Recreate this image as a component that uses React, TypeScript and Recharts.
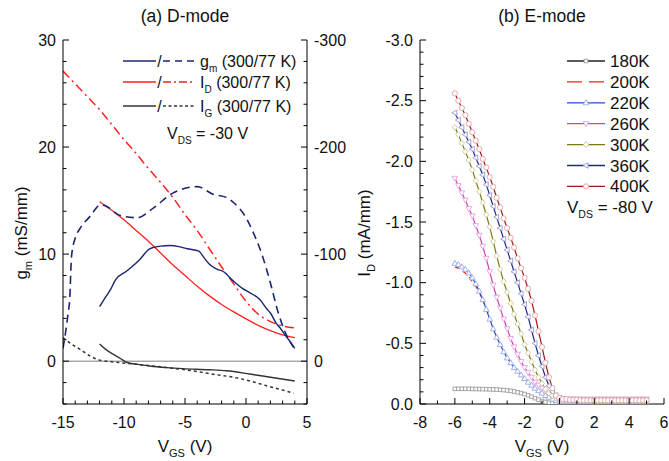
import React from 'react';
import { ComposedChart, Line, XAxis, YAxis, ReferenceLine } from 'recharts';

const FONT = '"Liberation Sans", Arial, sans-serif';

// ---------- Panel (a) D-mode ----------
const gm300X = [-12, -11.5, -11.1, -10.7, -9.8, -8.7, -7.9, -7.0, -6.2, -5.5, -4.8, -3.9, -3.4, -2.95, -2.4, -1.9, -1.05, -0.3, 0.3, 1.1, 1.7, 2.0, 2.5, 2.8, 3.3, 3.5, 4.0];
const gm300Y = [5.1, 6.0, 6.7, 7.6, 8.4, 9.5, 10.5, 10.75, 10.8, 10.7, 10.5, 10.3, 9.6, 9.0, 8.6, 8.4, 7.5, 6.8, 6.4, 5.8, 4.9, 4.5, 3.5, 3.1, 2.3, 2.0, 1.2];

const gm77X = [-15, -14.8, -14.6, -14.45, -14.3, -14.0, -13.6, -12.8, -11.9, -11.5, -10.3, -8.9, -7.6, -6.0, -4.0, -2.7, -1.6, -1.0, 0.1, 0.6, 1.3, 2.0, 2.65, 3.33, 3.9];
const gm77Y = [1.2, 2.6, 4.3, 5.8, 9.8, 11.5, 12.4, 13.5, 14.6, 14.5, 13.6, 13.4, 14.3, 15.7, 16.3, 15.6, 15.3, 14.8, 13.2, 12.0, 10.0, 7.3, 4.5, 2.4, 1.3];

// I_D in mA/mm (right axis)
const id300X = [-12, -11, -10, -9, -8, -7, -6, -5, -4, -3, -2, -1, 0, 1, 2, 3, 4];
const id300Y = [-149, -141, -132, -122, -112, -101, -90, -80, -70, -61, -53, -46, -39.5, -33.5, -28.5, -24.5, -22];

const id77X = [-15, -14, -13, -12, -11, -10, -9, -8, -7, -6, -5, -4, -3, -2, -1, 0, 1, 2, 3, 4];
const id77Y = [-271, -259, -247, -235, -221, -207, -194, -180, -167, -153, -137, -122, -105, -88, -72, -56, -44, -37, -33, -31];

const ig300X = [-12, -11.5, -10.9, -10.3, -9.8, -8.9, -7.9, -6.5, -5.2, -3.0, -1.6, 0.3, 2.0, 4.0];
const ig300Y = [1.6, 1.1, 0.65, 0.25, -0.1, -0.3, -0.45, -0.6, -0.7, -0.8, -0.9, -1.2, -1.5, -1.85];

const ig77X = [-15, -14.3, -13.6, -12.8, -12, -11, -9.8, -8, -6.5, -5, -3.8, -2.5, -1.05, 0.5, 1.7, 3.0, 3.9];
const ig77Y = [2.2, 1.6, 1.1, 0.5, 0.1, -0.05, -0.2, -0.4, -0.6, -0.8, -1.0, -1.25, -1.5, -1.9, -2.3, -2.7, -3.0];

const xTicksA = [-15, -14, -13, -12, -11, -10, -9, -8, -7, -6, -5, -4, -3, -2, -1, 0, 1, 2, 3, 4, 5];
const xMajorsA = [-15, -10, -5, 0, 5];
const yTicksA = [-4, -2, 0, 2, 4, 6, 8, 10, 12, 14, 16, 18, 20, 22, 24, 26, 28, 30];
const yMajorsA = [0, 10, 20, 30];
const yTicksAR = [-300, -280, -260, -240, -220, -200, -180, -160, -140, -120, -100, -80, -60, -40, -20, 0, 20, 40];
const yMajorsAR = [-300, -200, -100, 0];

// ---------- Panel (b) E-mode ----------
const vgsE = [-6.0, -5.8, -5.6, -5.4, -5.2, -5.0, -4.8, -4.6, -4.4, -4.2, -4.0, -3.8, -3.6, -3.4, -3.2, -3.0, -2.8, -2.6, -2.4, -2.2, -2.0, -1.8, -1.6, -1.4, -1.2, -1.0, -0.8, -0.6, -0.4, -0.2, 0.0,
  0.2, 0.4, 0.6, 0.8, 1.0, 1.2, 1.4, 1.6, 1.8, 2.0, 2.2, 2.4, 2.6, 2.8, 3.0, 3.2, 3.4, 3.6, 3.8, 4.0, 4.2, 4.4, 4.6, 4.8, 5.0];

const id180 = [-0.125, -0.125, -0.125, -0.125, -0.125, -0.124, -0.124, -0.123, -0.123, -0.122, -0.121, -0.120, -0.119, -0.117, -0.115, -0.112, -0.108, -0.103, -0.097, -0.090, -0.082, -0.072, -0.060, -0.048, -0.036, -0.025, -0.016, -0.010, -0.006, -0.004, -0.003,
  -0.003, -0.003, -0.003, -0.002, -0.002, -0.002, -0.002, -0.002, -0.002, -0.002, -0.002, -0.002, -0.002, -0.002, -0.002, -0.002, -0.002, -0.002, -0.002, -0.002, -0.002, -0.002, -0.002, -0.002, -0.002];
const id200 = [-1.13, -1.12, -1.10, -1.08, -1.05, -1.01, -0.97, -0.92, -0.86, -0.79, -0.71, -0.63, -0.56, -0.50, -0.44, -0.39, -0.35, -0.31, -0.27, -0.24, -0.21, -0.18, -0.15, -0.13, -0.11, -0.09, -0.07, -0.055, -0.04, -0.03, -0.025,
  -0.02, -0.02, -0.02, -0.02, -0.02, -0.02, -0.02, -0.02, -0.02, -0.02, -0.02, -0.02, -0.02, -0.02, -0.02, -0.02, -0.02, -0.02, -0.02, -0.02, -0.02, -0.02, -0.02, -0.02, -0.02];
const id220 = [-1.16, -1.15, -1.13, -1.11, -1.08, -1.04, -0.99, -0.93, -0.86, -0.78, -0.70, -0.62, -0.55, -0.49, -0.43, -0.38, -0.34, -0.30, -0.27, -0.24, -0.21, -0.18, -0.155, -0.13, -0.11, -0.09, -0.07, -0.055, -0.04, -0.03, -0.025,
  -0.02, -0.02, -0.02, -0.02, -0.02, -0.02, -0.02, -0.02, -0.02, -0.02, -0.02, -0.02, -0.02, -0.02, -0.02, -0.02, -0.02, -0.02, -0.02, -0.02, -0.02, -0.02, -0.02, -0.02, -0.02];
const id260 = [-1.86, -1.80, -1.74, -1.68, -1.61, -1.55, -1.47, -1.39, -1.30, -1.20, -1.09, -0.98, -0.88, -0.79, -0.70, -0.62, -0.54, -0.47, -0.41, -0.35, -0.30, -0.26, -0.22, -0.18, -0.155, -0.13, -0.11, -0.09, -0.07, -0.055, -0.045,
  -0.04, -0.04, -0.04, -0.04, -0.04, -0.04, -0.04, -0.04, -0.04, -0.04, -0.04, -0.04, -0.04, -0.04, -0.04, -0.04, -0.04, -0.04, -0.04, -0.04, -0.04, -0.04, -0.04, -0.04, -0.04];
const id300 = [-2.28, -2.22, -2.15, -2.08, -2.01, -1.93, -1.84, -1.75, -1.66, -1.56, -1.46, -1.34, -1.22, -1.11, -1.01, -0.92, -0.83, -0.74, -0.66, -0.58, -0.49, -0.42, -0.35, -0.28, -0.22, -0.17, -0.12, -0.09, -0.07, -0.05, -0.04,
  -0.03, -0.03, -0.03, -0.03, -0.03, -0.03, -0.03, -0.03, -0.03, -0.03, -0.03, -0.03, -0.03, -0.03, -0.03, -0.03, -0.03, -0.03, -0.03, -0.03, -0.03, -0.03, -0.03, -0.03, -0.03];
const id360 = [-2.40, -2.34, -2.28, -2.22, -2.16, -2.10, -2.03, -1.96, -1.89, -1.81, -1.72, -1.63, -1.54, -1.45, -1.36, -1.27, -1.18, -1.09, -1.00, -0.91, -0.82, -0.72, -0.61, -0.50, -0.40, -0.31, -0.22, -0.15, -0.10, -0.07, -0.05,
  -0.04, -0.035, -0.035, -0.03, -0.03, -0.03, -0.03, -0.03, -0.03, -0.03, -0.03, -0.03, -0.03, -0.03, -0.03, -0.03, -0.03, -0.03, -0.03, -0.03, -0.03, -0.03, -0.03, -0.03, -0.03];
const id400 = [-2.56, -2.50, -2.44, -2.38, -2.31, -2.24, -2.17, -2.10, -2.02, -1.95, -1.87, -1.79, -1.70, -1.62, -1.53, -1.45, -1.37, -1.29, -1.20, -1.12, -1.04, -0.95, -0.85, -0.73, -0.60, -0.47, -0.34, -0.22, -0.13, -0.07, -0.05,
  -0.04, -0.04, -0.035, -0.035, -0.035, -0.03, -0.03, -0.03, -0.03, -0.03, -0.03, -0.03, -0.03, -0.03, -0.03, -0.03, -0.03, -0.03, -0.03, -0.03, -0.03, -0.03, -0.03, -0.03, -0.03];

const tempLabels = ['180K', '200K', '220K', '260K', '300K', '360K', '400K'];

const xTicksB = [-8, -7, -6, -5, -4, -3, -2, -1, 0, 1, 2, 3, 4, 5, 6];
const xMajorsB = [-8, -6, -4, -2, 0, 2, 4, 6];
const yTicksB = [-3.0, -2.9, -2.8, -2.7, -2.6, -2.5, -2.4, -2.3, -2.2, -2.1, -2.0, -1.9, -1.8, -1.7, -1.6, -1.5, -1.4, -1.3, -1.2, -1.1, -1.0, -0.9, -0.8, -0.7, -0.6, -0.5, -0.4, -0.3, -0.2, -0.1, 0.0];
const yMajorsB = [-3.0, -2.5, -2.0, -1.5, -1.0, -0.5, 0.0];

const pts = (xs: number[], ys: number[]) => xs.map((x, i) => ({ x, y: ys[i] }));

type Side = 'bottom' | 'top' | 'left' | 'right';
function makeTick(side: Side, majors: number[], fmt: ((v: number) => string) | null) {
  return (props: any) => {
    const { x, y, payload, index } = props;
    const v = Number(payload.value);
    const major = majors.some((m) => Math.abs(m - v) < 1e-6);
    const len = major ? 6 : 3.5;
    const st = { stroke: '#000', strokeWidth: 1 };
    let line: any = null;
    let text: any = null;
    const tp = { fontFamily: FONT, fontSize: 16, fill: '#111' };
    if (side === 'bottom') {
      line = <line x1={x} x2={x} y1={y} y2={y - len} {...st} />;
      if (fmt && major) text = <text x={x} y={y + 24} textAnchor="middle" {...tp}>{fmt(v)}</text>;
    } else if (side === 'top') {
      line = <line x1={x} x2={x} y1={y} y2={y + len} {...st} />;
    } else if (side === 'left') {
      line = <line x1={x} x2={x + len} y1={y} y2={y} {...st} />;
      if (fmt && major) text = <text x={x - 7} y={y + 5.8} textAnchor="end" {...tp}>{fmt(v)}</text>;
    } else {
      line = <line x1={x} x2={x - len} y1={y} y2={y} {...st} />;
      if (fmt && major) text = <text x={x + 7} y={y + 5.8} textAnchor="start" {...tp}>{fmt(v)}</text>;
    }
    return <g key={`t-${side}-${index}`}>{line}{text}</g>;
  };
}

type Shape = 'square' | 'none' | 'triUp' | 'triDown' | 'diamond' | 'triLeft' | 'circle';
function Marker({ shape, cx, cy, stroke }: { shape: Shape; cx: number; cy: number; stroke: string }) {
  const p = { fill: '#fff', stroke, strokeWidth: 0.9 };
  if (shape === 'none' || cx == null || cy == null) return <g />;
  if (shape === 'square') return <rect x={cx - 1.8} y={cy - 1.8} width={3.6} height={3.6} {...p} />;
  if (shape === 'circle') return <circle cx={cx} cy={cy} r={2.6} {...p} />;
  let d = '';
  if (shape === 'triUp') d = `${cx},${cy - 3} ${cx - 2.8},${cy + 2} ${cx + 2.8},${cy + 2}`;
  if (shape === 'triDown') d = `${cx},${cy + 3} ${cx - 2.8},${cy - 2} ${cx + 2.8},${cy - 2}`;
  if (shape === 'triLeft') d = `${cx - 3},${cy} ${cx + 2},${cy - 2.8} ${cx + 2},${cy + 2.8}`;
  if (shape === 'diamond') d = `${cx},${cy - 3} ${cx + 2.6},${cy} ${cx},${cy + 3} ${cx - 2.6},${cy}`;
  return <polygon points={d} {...p} />;
}

const seriesB = [
  { name: tempLabels[0], vals: id180, line: '#222222', mk: '#a0a0a0', shape: 'square' as Shape, dash: undefined as string | undefined },
  { name: tempLabels[1], vals: id200, line: '#f02020', mk: '#f02020', shape: 'none' as Shape, dash: '5 4' },
  { name: tempLabels[2], vals: id220, line: '#2050d0', mk: '#98a8ea', shape: 'triUp' as Shape, dash: undefined },
  { name: tempLabels[3], vals: id260, line: '#d040b0', mk: '#e8a0e0', shape: 'triDown' as Shape, dash: undefined },
  { name: tempLabels[4], vals: id300, line: '#7a7a10', mk: '#c8c898', shape: 'diamond' as Shape, dash: undefined },
  { name: tempLabels[5], vals: id360, line: '#1c2a8c', mk: '#9898d0', shape: 'triLeft' as Shape, dash: undefined },
  { name: tempLabels[6], vals: id400, line: '#a01818', mk: '#e0a0a0', shape: 'circle' as Shape, dash: undefined },
];

const NAVY = '#1c2470';
const RED = '#ff2020';
const GRAY = '#333333';

function PanelA() {
  return (
    <ComposedChart width={365} height={461} margin={{ top: 40, right: 25, bottom: 0, left: 0 }}>
      <XAxis dataKey="x" type="number" domain={[-15, 5]} ticks={xTicksA} interval={0} allowDataOverflow
        height={57} tickSize={0} tickMargin={0} tickLine={false} axisLine={{ stroke: '#000' }}
        tick={makeTick('bottom', xMajorsA, (v) => String(v))} />
      <XAxis xAxisId="top" orientation="top" dataKey="x" type="number" domain={[-15, 5]} ticks={xTicksA} interval={0} allowDataOverflow
        height={0} tickSize={0} tickMargin={0} tickLine={false} axisLine={{ stroke: '#000' }}
        tick={makeTick('top', xMajorsA, null)} />
      <YAxis yAxisId="left" type="number" domain={[-4, 30]} ticks={yTicksA} interval={0} allowDataOverflow
        width={63} tickSize={0} tickMargin={0} tickLine={false} axisLine={{ stroke: '#000' }}
        tick={makeTick('left', yMajorsA, (v) => String(v))} />
      <YAxis yAxisId="right" orientation="right" type="number" domain={[-300, 40]} reversed ticks={yTicksAR} interval={0} allowDataOverflow
        width={33} tickSize={0} tickMargin={0} tickLine={false} axisLine={{ stroke: '#000' }}
        tick={makeTick('right', yMajorsAR, (v) => String(v))} />
      <ReferenceLine yAxisId="left" y={0} stroke="#aaaaaa" strokeWidth={1.5} />
      <Line yAxisId="left" data={pts(ig77X, ig77Y)} dataKey="y" type="monotone" stroke={GRAY} strokeWidth={1.5} strokeDasharray="3 3" dot={false} activeDot={false} isAnimationActive={false} />
      <Line yAxisId="left" data={pts(ig300X, ig300Y)} dataKey="y" type="monotone" stroke={GRAY} strokeWidth={1.4} dot={false} activeDot={false} isAnimationActive={false} />
      <Line yAxisId="right" data={pts(id77X, id77Y)} dataKey="y" type="monotone" stroke={RED} strokeWidth={1.5} strokeDasharray="9 4 2 4" dot={false} activeDot={false} isAnimationActive={false} />
      <Line yAxisId="right" data={pts(id300X, id300Y)} dataKey="y" type="monotone" stroke={RED} strokeWidth={1.3} dot={false} activeDot={false} isAnimationActive={false} />
      <Line yAxisId="left" data={pts(gm77X, gm77Y)} dataKey="y" type="monotone" stroke={NAVY} strokeWidth={1.6} strokeDasharray="8 5" dot={false} activeDot={false} isAnimationActive={false} />
      <Line yAxisId="left" data={pts(gm300X, gm300Y)} dataKey="y" type="monotone" stroke={NAVY} strokeWidth={1.4} dot={false} activeDot={false} isAnimationActive={false} />
    </ComposedChart>
  );
}

function PanelB() {
  return (
    <ComposedChart width={329} height={461} margin={{ top: 40, right: 5, bottom: 0, left: 0 }}>
      <XAxis dataKey="x" type="number" domain={[-8, 6]} ticks={xTicksB} interval={0} allowDataOverflow
        height={57} tickSize={0} tickMargin={0} tickLine={false} axisLine={{ stroke: '#000' }}
        tick={makeTick('bottom', xMajorsB, (v) => String(v))} />
      <XAxis xAxisId="top" orientation="top" dataKey="x" type="number" domain={[-8, 6]} ticks={xTicksB} interval={0} allowDataOverflow
        height={0} tickSize={0} tickMargin={0} tickLine={false} axisLine={{ stroke: '#000' }}
        tick={makeTick('top', xMajorsB, null)} />
      <YAxis yAxisId="l" type="number" domain={[-3, 0]} reversed ticks={yTicksB} interval={0} allowDataOverflow
        width={80} tickSize={0} tickMargin={0} tickLine={false} axisLine={{ stroke: '#000' }}
        tick={makeTick('left', yMajorsB, (v) => v.toFixed(1))} />
      <YAxis yAxisId="r" orientation="right" type="number" domain={[-3, 0]} reversed ticks={yTicksB} interval={0} allowDataOverflow
        width={0} tickSize={0} tickMargin={0} tickLine={false} axisLine={{ stroke: '#000' }}
        tick={makeTick('right', yMajorsB, null)} />
      {seriesB.map((s) => (
        <Line key={s.name} yAxisId="l" data={pts(vgsE, s.vals)} dataKey="y" type="linear" stroke={s.line}
          strokeWidth={s.shape === 'none' ? 1.2 : 1.2} strokeDasharray={s.dash}
          dot={s.shape === 'none' ? false : (p: any) => <Marker key={`${s.name}-${p.index}`} shape={s.shape} cx={p.cx} cy={p.cy} stroke={s.mk} />}
          activeDot={false} isAnimationActive={false} />
      ))}
    </ComposedChart>
  );
}

function Overlay() {
  const t = { fontFamily: FONT, fill: '#111' };
  const legA = [
    { y: 61, color: NAVY, dash: '7 5', main: 'g', sub: 'm' },
    { y: 82, color: RED, dash: '8 3 2 3', main: 'I', sub: 'D' },
    { y: 106, color: GRAY, dash: '3 2.5', main: 'I', sub: 'G' },
  ];
  const rowsB = [61, 81.9, 102.8, 123.7, 144.6, 165.5, 186.4];
  return (
    <svg width={669} height={461} style={{ position: 'absolute', left: 0, top: 0, pointerEvents: 'none' }}>
      <text x={185} y={22} textAnchor="middle" fontSize={17.5} {...t}>(a) D-mode</text>
      <text x={542} y={22} textAnchor="middle" fontSize={17.5} {...t}>(b) E-mode</text>
      <text x={185} y={452} textAnchor="middle" fontSize={17} {...t}>V<tspan fontSize={11} dy={5}>GS</tspan><tspan dy={-5}> (V)</tspan></text>
      <text x={542} y={452} textAnchor="middle" fontSize={17} {...t}>V<tspan fontSize={11} dy={5}>GS</tspan><tspan dy={-5}> (V)</tspan></text>
      <text transform="translate(27,233) rotate(-90)" textAnchor="middle" fontSize={17} {...t}>g<tspan fontSize={11} dy={5}>m</tspan><tspan dy={-5}> (mS/mm)</tspan></text>
      <text transform="translate(370,233) rotate(-90)" textAnchor="middle" fontSize={17} {...t}>I<tspan fontSize={11} dy={5}>D</tspan><tspan dy={-5}> (mA/mm)</tspan></text>
      {legA.map((r, i) => (
        <g key={i}>
          <line x1={123} x2={156} y1={r.y} y2={r.y} stroke={r.color} strokeWidth={1.5} />
          <text x={159.5} y={r.y + 5.5} textAnchor="middle" fontSize={16} {...t}>/</text>
          <line x1={163} x2={194} y1={r.y} y2={r.y} stroke={r.color} strokeWidth={1.5} strokeDasharray={r.dash} />
          <text x={200} y={r.y + 5.8} fontSize={16} {...t}>{r.main}<tspan fontSize={10} dy={5}>{r.sub}</tspan><tspan dy={-5}> (300/77 K)</tspan></text>
        </g>
      ))}
      <text x={167} y={139} fontSize={16} {...t}>V<tspan fontSize={10} dy={5}>DS</tspan><tspan dy={-5}> = -30 V</tspan></text>
      {seriesB.map((s, i) => (
        <g key={s.name}>
          {s.shape === 'none' ? (
            <line x1={567} x2={605} y1={rowsB[i]} y2={rowsB[i]} stroke={s.line} strokeWidth={1.3} strokeDasharray="15 7" />
          ) : (
            <line x1={567} x2={605} y1={rowsB[i]} y2={rowsB[i]} stroke={s.line} strokeWidth={1.3} />
          )}
          <Marker shape={s.shape} cx={586} cy={rowsB[i]} stroke={s.mk} />
          <text x={610} y={rowsB[i] + 6} fontSize={17} {...t}>{s.name}</text>
        </g>
      ))}
      <text x={567} y={213} fontSize={17} {...t}>V<tspan fontSize={10.5} dy={5}>DS</tspan><tspan dy={-5}> = -80 V</tspan></text>
    </svg>
  );
}

export default function App() {
  return (
    <div style={{ position: 'absolute', left: 0, top: 0, width: 669, height: 461, background: '#fff', overflow: 'hidden' }}>
      <div style={{ position: 'absolute', left: 0, top: 0 }}><PanelA /></div>
      <div style={{ position: 'absolute', left: 340, top: 0 }}><PanelB /></div>
      <Overlay />
    </div>
  );
}
